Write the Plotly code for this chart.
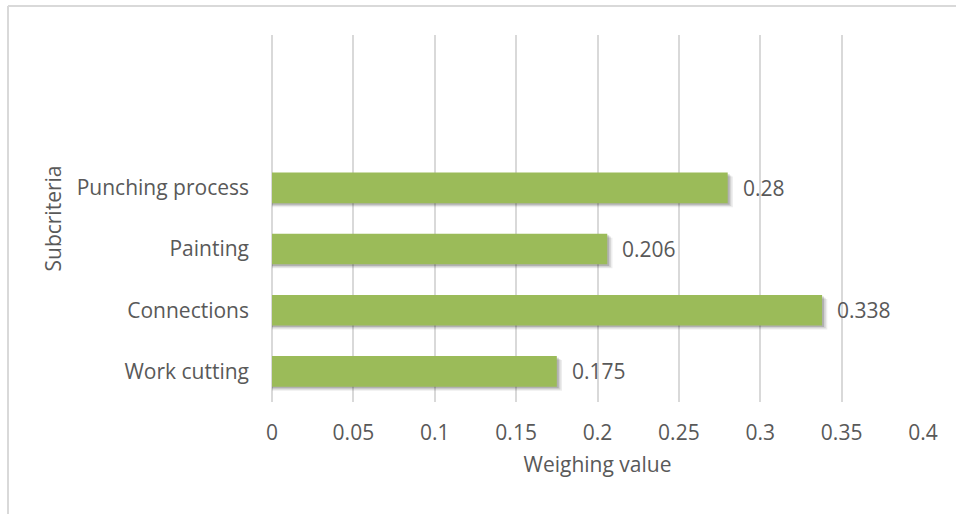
import plotly.graph_objects as go

# Subcriteria weights (bottom to top)
categories = ["Work cutting", "Connections", "Painting", "Punching process"]
weights = [0.175, 0.338, 0.206, 0.28]
x_ticks = [0, 0.05, 0.1, 0.15, 0.2, 0.25, 0.3, 0.35, 0.4]
x_tick_labels = ["0", "0.05", "0.1", "0.15", "0.2", "0.25", "0.3", "0.35", "0.4"]

FONT = "Open Sans"
TEXT = "#595959"
GREEN = "#9BBB59"
GRID = "#d9d9d9"
FS = 21

fig = go.Figure()

# soft drop shadow under each bar (a few translucent layers)
for dx, off, alpha in [(0.0032, -0.315, 0.07), (0.0022, -0.295, 0.11), (0.0012, -0.275, 0.16)]:
    fig.add_trace(go.Bar(
        y=categories, x=[w + dx for w in weights], orientation="h",
        width=0.5, offset=off,
        marker=dict(color=f"rgba(0,0,0,{alpha})", line=dict(width=0)),
        hoverinfo="skip", showlegend=False,
    ))

fig.add_trace(go.Bar(
    y=categories, x=weights, orientation="h",
    width=0.5, offset=-0.25,
    marker=dict(color=GREEN, line=dict(width=0)),
    showlegend=False,
))

# value labels to the right of each bar
for c, w in zip(categories, weights):
    fig.add_annotation(x=w, y=c, text=f"{w:g}", xanchor="left", yanchor="middle",
                       xshift=13, showarrow=False,
                       font=dict(family=FONT, size=FS, color=TEXT))

fig.update_layout(
    width=956, height=514,
    margin=dict(l=272, r=33, t=35, b=112),
    paper_bgcolor="white", plot_bgcolor="white",
    barmode="overlay",
    font=dict(family=FONT, size=FS, color=TEXT),
    xaxis=dict(
        range=[0, 0.4], tickvals=x_ticks, ticktext=x_tick_labels,
        showgrid=True, gridcolor=GRID, gridwidth=2,
        zeroline=True, zerolinecolor=GRID, zerolinewidth=2,
        showline=False, ticks="",
        ticklabelstandoff=16,
        title=dict(text="Weighing value", standoff=12,
                   font=dict(family=FONT, size=FS, color=TEXT)),
    ),
    yaxis=dict(
        type="category", categoryorder="array", categoryarray=categories,
        range=[-0.5, 5.5], showgrid=False, zeroline=False,
        showline=False, ticks="", ticklabelstandoff=22,
        title=dict(text="Subcriteria", standoff=9,
                   font=dict(family=FONT, size=FS, color=TEXT)),
    ),
    shapes=[
        # outer chart border (top and left edges visible)
        dict(type="line", xref="paper", yref="paper", x0=-264/651, x1=1.2,
             y0=1 + 29/367, y1=1 + 29/367, line=dict(color=GRID, width=2)),
        dict(type="line", xref="paper", yref="paper", x0=-264/651, x1=-264/651,
             y0=-0.5, y1=1 + 29/367, line=dict(color=GRID, width=2)),
    ],
)

fig.write_html("out.html")
